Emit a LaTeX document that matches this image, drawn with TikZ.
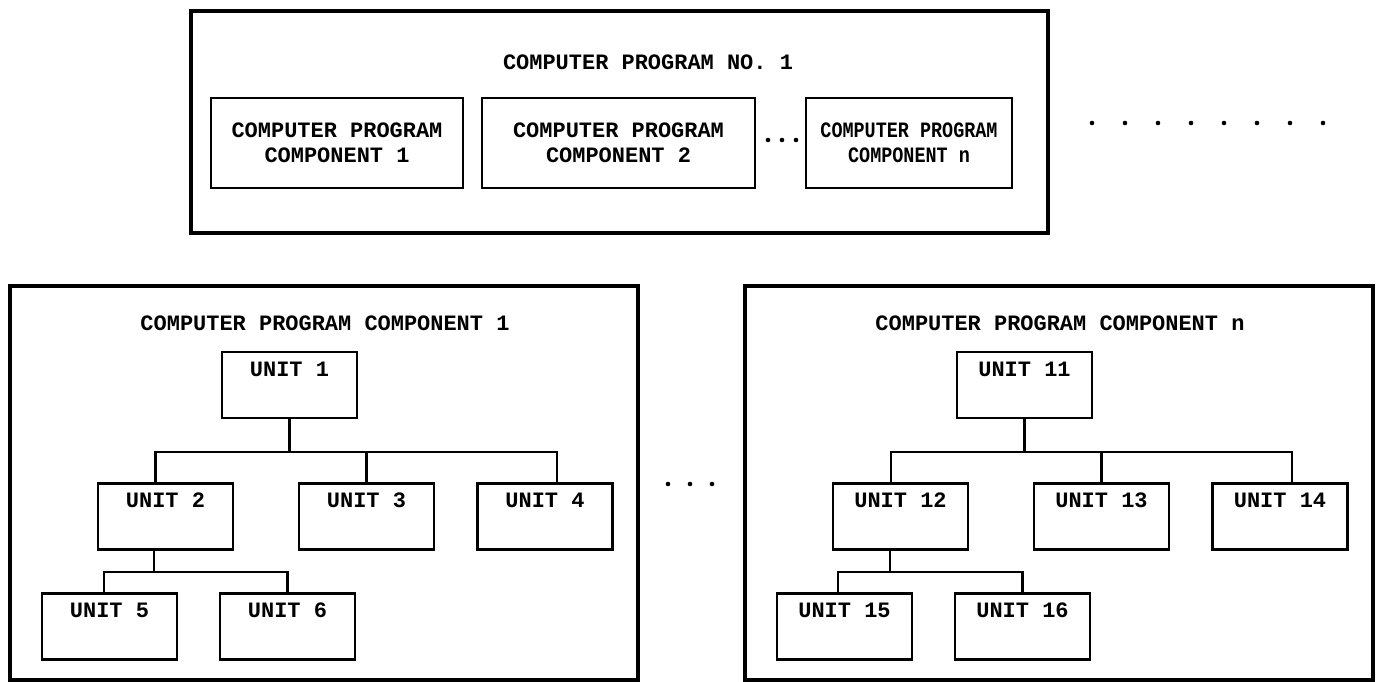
\documentclass[tikz,border=0pt]{standalone}
\usepackage{fontspec}
\usepackage{graphicx}
\setmonofont{Liberation Mono}
\usetikzlibrary{positioning}

\begin{document}
\begin{tikzpicture}[x=0.02cm, y=-0.02cm, every node/.style={font=\fontsize{12.5pt}{14.2pt}\selectfont\ttfamily\bfseries}, align=center,
  bigbox/.style={draw, line width=2.1pt, inner sep=0pt},
  compbox/.style={draw, line width=1.5pt, minimum height=1.8cm, inner xsep=0pt},
  unitbox/.style={draw, line width=1.5pt, minimum width=2.7cm, inner ysep=0pt, text height=0.48cm, text depth=0.84cm},
  wire/.style={line width=1.3pt}]
\useasboundingbox (0,0) rectangle (1380,682);
% Specification of nodes (position, etc.)

% computer program
\node (prog)        [bigbox, minimum width=17.14cm, minimum height=4.44cm] at (619.5,122) {};
\node (progtitle)   at (648,62)                                  {COMPUTER PROGRAM NO. 1};
\node (cpc1)        [compbox, minimum width=5.04cm] at (337,143)   {COMPUTER PROGRAM\\COMPONENT 1};
\node (cpc2)        [compbox, minimum width=5.46cm] at (618.5,143) {COMPUTER PROGRAM\\COMPONENT 2};
\node (cpcn)        [compbox, minimum width=4.12cm] at (909,143)   {\scalebox{0.84}[1]{COMPUTER PROGRAM}\\\scalebox{0.84}[1]{COMPONENT n}};

% component 1
\node (comp1)       [bigbox, minimum width=12.56cm, minimum height=7.88cm] at (324,483) {};
\node (comp1title)  at (325,323)                   {COMPUTER PROGRAM COMPONENT 1};
\node (unit1)       [unitbox] at (289.5,385)       {UNIT 1};
\node (unit2)       [unitbox] at (165.5,516.5)     {UNIT 2};
\node (unit3)       [unitbox] at (366.5,516.5)     {UNIT 3};
\node (unit4)       [unitbox] at (545,516.5)       {UNIT 4};
\node (unit5)       [unitbox] at (109.5,626.5)     {UNIT 5};
\node (unit6)       [unitbox] at (287.5,626.5)     {UNIT 6};

% component n
\node (compn)       [bigbox, minimum width=12.56cm, minimum height=7.88cm] at (1059,483) {};
\node (compntitle)  at (1060,323)                  {COMPUTER PROGRAM COMPONENT n};
\node (unit11)      [unitbox] at (1024.5,385)      {UNIT 11};
\node (unit12)      [unitbox] at (900.5,516.5)     {UNIT 12};
\node (unit13)      [unitbox] at (1101.5,516.5)    {UNIT 13};
\node (unit14)      [unitbox] at (1280,516.5)      {UNIT 14};
\node (unit15)      [unitbox] at (844.5,626.5)     {UNIT 15};
\node (unit16)      [unitbox] at (1022.5,626.5)    {UNIT 16};

\draw[wire]   (unit1.south) -- ++(0,33) -| ([xshift=-0.2cm]unit2.north);
\draw[wire]   (unit1.south) -- ++(0,33) -| (unit3.north);
\draw[wire]   (unit1.south) -- ++(0,33) -| ([xshift=0.24cm]unit4.north);
\draw[wire]   ([xshift=-0.23cm]unit2.south) -- ++(0,21) -| ([xshift=-0.11cm]unit5.north);
\draw[wire]   ([xshift=-0.23cm]unit2.south) -- ++(0,21) -| (unit6.north);

\draw[wire]   (unit11.south) -- ++(0,33) -| ([xshift=-0.19cm]unit12.north);
\draw[wire]   (unit11.south) -- ++(0,33) -| (unit13.north);
\draw[wire]   (unit11.south) -- ++(0,33) -| ([xshift=0.24cm]unit14.north);
\draw[wire]   ([xshift=-0.21cm]unit12.south) -- ++(0,21) -| ([xshift=-0.13cm]unit15.north);
\draw[wire]   ([xshift=-0.21cm]unit12.south) -- ++(0,21) -| (unit16.north);

% dots
\foreach \x in {768,782,796} \fill (\x,140) circle (1.3pt);
\foreach \x in {1092,1125,...,1323} \fill (\x,123) circle (1.3pt);
\foreach \x in {668,690,712} \fill (\x,484) circle (1.3pt);

\end{tikzpicture}
\end{document}
